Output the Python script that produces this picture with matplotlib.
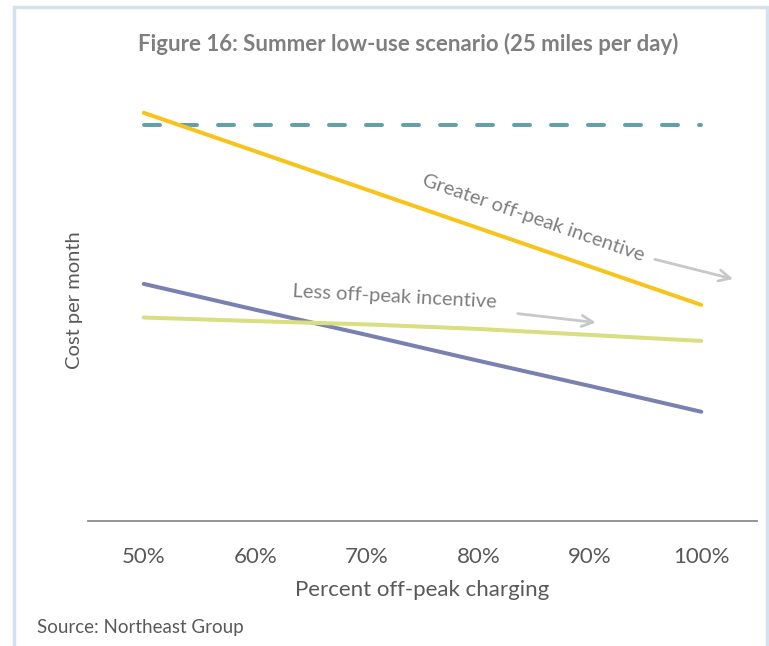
import numpy as np
import matplotlib.pyplot as plt
from matplotlib.patches import Rectangle

# data (cost per month; no y ticks in the original)
categories = ['50%', '60%', '70%', '80%', '90%', '100%']
baseline = [66.0, 66.0, 66.0, 66.0, 66.0, 66.0]
greater_incentive = [68.0, 61.6, 55.2, 48.8, 42.4, 36.0]
less_incentive = [33.9, 33.3, 32.75, 32.0, 31.0, 30.0]
blue_series = [39.5, 35.2, 31.0, 26.7, 22.5, 18.2]

plt.rcParams['font.family'] = ['Lato', 'DejaVu Sans']
grey = '#7f7f7f'

fig = plt.figure(figsize=(7.69, 6.46), dpi=100)
ax = fig.add_axes([88/769, 125/646, (757-88)/769, (521-90)/646])

x = np.arange(len(categories))

ax.plot(x, greater_incentive, color='#f7c41c', lw=2.9, solid_capstyle='round', zorder=3)
ax.plot(x, blue_series, color='#7a80b0', lw=2.9, solid_capstyle='round', zorder=3)
ax.plot(x, less_incentive, color='#d9df80', lw=2.9, solid_capstyle='round', zorder=3)
dash, = ax.plot(x, baseline, color='#62a0aa', lw=2.88, dash_capstyle='round', zorder=2)
dash.set_dashes((4, 5.25))

ax.set_xlim(-0.5, 5.5)
ax.set_ylim(0, 71.8)
ax.set_xticks(x)
ax.set_xticklabels(categories, fontsize=16, color='#595959')
ax.tick_params(axis='x', length=0, pad=19)
ax.set_yticks([])
for s in ['top', 'right', 'left']:
    ax.spines[s].set_visible(False)
ax.spines['bottom'].set_color('#8c8c8c')
ax.spines['bottom'].set_linewidth(1.3)

ax.set_xlabel('Percent off-peak charging', fontsize=16, color='#595959', labelpad=9)
ax.set_ylabel('Cost per month', fontsize=14.5, color='#595959')
ax.yaxis.set_label_coords(-0.0075, 0.513)

# annotations
ax.text(3.49, 50.5, 'Greater off-peak incentive', fontsize=14.5, color=grey,
        rotation=-19, ha='center', va='center')
ax.annotate('', xy=(5.31, 40.2), xytext=(4.56, 43.7),
            arrowprops=dict(arrowstyle='->,head_length=0.8,head_width=0.4',
                            color='#c8c8c8', lw=2))
ax.text(2.245, 37.3, 'Less off-peak incentive', fontsize=14.5, color=grey,
        rotation=-3, ha='center', va='center')
ax.annotate('', xy=(4.08, 33.0), xytext=(3.33, 34.6),
            arrowprops=dict(arrowstyle='->,head_length=0.8,head_width=0.4',
                            color='#c8c8c8', lw=2))

fig.text(408/769, 1 - 44/646, 'Figure 16: Summer low-use scenario (25 miles per day)',
         fontsize=16, fontweight='bold', color=grey, ha='center', va='center')
fig.text(37/769, 1 - 628/646, 'Source: Northeast Group', fontsize=13.5,
         color='#595959', ha='left', va='center')

# light blue frame
fig.patches.append(Rectangle((13.5/769, -0.1), (767 - 13.5)/769, 1.1 - 7.5/646,
                             transform=fig.transFigure, fill=False,
                             edgecolor='#d3e2ec', lw=2.5))

fig.savefig('out.png', dpi=100)
